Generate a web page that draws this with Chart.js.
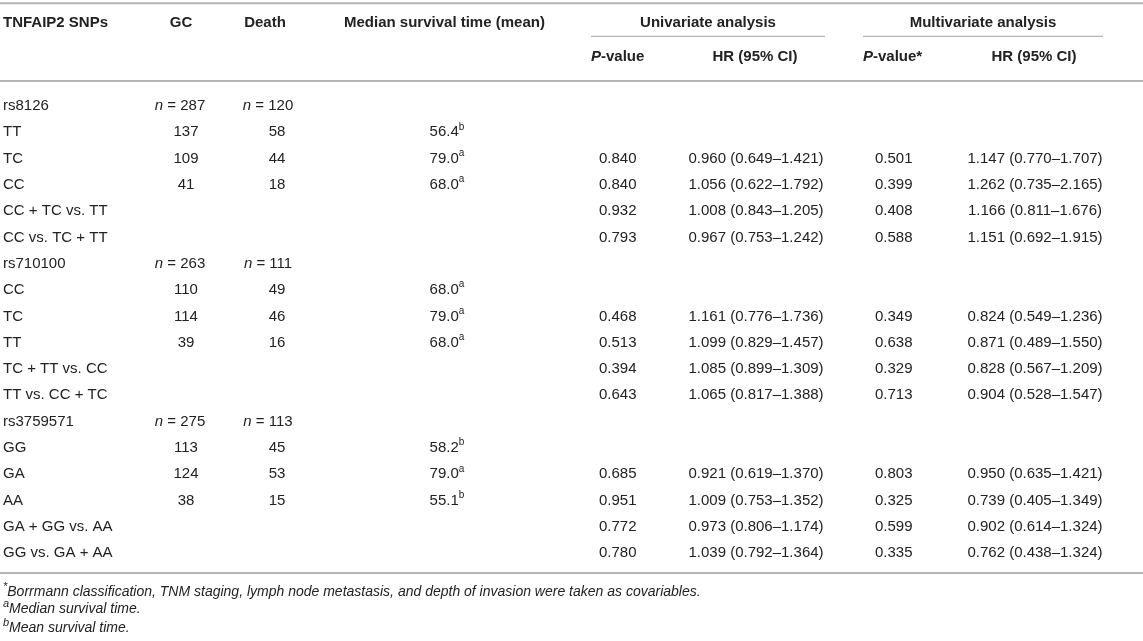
<!DOCTYPE html>
<html>
<head>
<meta charset="utf-8">
<script src="https://cdn.jsdelivr.net/npm/chart.js@4.4.1/dist/chart.umd.min.js"></script>
<style>
  html, body { margin: 0; padding: 0; background: #fff; }
  #table { display: block; }
</style>
</head>
<body>
<canvas id="table" width="1143" height="641"></canvas>
<script>
// table rows
const rowLabels = ['rs8126', 'TT', 'TC', 'CC', 'CC + TC vs. TT', 'CC vs. TC + TT',
  'rs710100', 'CC', 'TC', 'TT', 'TC + TT vs. CC', 'TT vs. CC + TC',
  'rs3759571', 'GG', 'GA', 'AA', 'GA + GG vs. AA', 'GG vs. GA + AA'];
const snpRows = [0, 6, 12];

const gcCounts = [287, 137, 109, 41, null, null, 263, 110, 114, 39, null, null, 275, 113, 124, 38, null, null];
const deathCounts = [120, 58, 44, 18, null, null, 111, 49, 46, 16, null, null, 113, 45, 53, 15, null, null];
const survivalTime = [null, 56.4, 79.0, 68.0, null, null, null, 68.0, 79.0, 68.0, null, null, null, 58.2, 79.0, 55.1, null, null];
const survivalNote = [null, 'b', 'a', 'a', null, null, null, 'a', 'a', 'a', null, null, null, 'b', 'a', 'b', null, null];

const uniP = [null, null, 0.840, 0.840, 0.932, 0.793, null, null, 0.468, 0.513, 0.394, 0.643, null, null, 0.685, 0.951, 0.772, 0.780];
const uniHR = [null, null, 0.960, 1.056, 1.008, 0.967, null, null, 1.161, 1.099, 1.085, 1.065, null, null, 0.921, 1.009, 0.973, 1.039];
const uniLow = [null, null, 0.649, 0.622, 0.843, 0.753, null, null, 0.776, 0.829, 0.899, 0.817, null, null, 0.619, 0.753, 0.806, 0.792];
const uniHigh = [null, null, 1.421, 1.792, 1.205, 1.242, null, null, 1.736, 1.457, 1.309, 1.388, null, null, 1.370, 1.352, 1.174, 1.364];

const multiP = [null, null, 0.501, 0.399, 0.408, 0.588, null, null, 0.349, 0.638, 0.329, 0.713, null, null, 0.803, 0.325, 0.599, 0.335];
const multiHR = [null, null, 1.147, 1.262, 1.166, 1.151, null, null, 0.824, 0.871, 0.828, 0.904, null, null, 0.950, 0.739, 0.902, 0.762];
const multiLow = [null, null, 0.770, 0.735, 0.811, 0.692, null, null, 0.549, 0.489, 0.567, 0.528, null, null, 0.635, 0.405, 0.614, 0.438];
const multiHigh = [null, null, 1.707, 2.165, 1.676, 1.915, null, null, 1.236, 1.550, 1.209, 1.547, null, null, 1.421, 1.349, 1.324, 1.324];

const footnotes = [
  ['*', 'Borrmann classification, TNM staging, lymph node metastasis, and depth of invasion were taken as covariables.'],
  ['a', 'Median survival time.'],
  ['b', 'Mean survival time.']
];

// layout (x in page pixels, y in row units)
const colX = { label: 3, gcN: 180, gc: 186, deathN: 268, death: 277, surv: 447,
  uniP: 599, uniHR: 756, multiP: 875, multiHR: 1035 };
const headY = -3.17, subLineY = -2.65, subHeadY = -1.87;
const topRuleY = -3.905, midRuleY = -0.95, bottomRuleY = 17.76;
const noteY = [18.48, 19.13, 19.85];
const ROW_PX = 26.3, FIRST_ROW_PX = 106;

const FONT = '"Liberation Sans", Arial, Helvetica, sans-serif';
const INK = '#222';
const RULE = '#b4b4b4';

function fontFor(p, size) {
  const s = p.sup ? Math.round(size * (p.supScale || 0.66)) : size;
  return (p.italic ? 'italic ' : '') + (p.bold ? 'bold ' : '') + s + 'px ' + FONT;
}

function drawRich(ctx, parts, x, y, align, size) {
  const widths = parts.map(p => { ctx.font = fontFor(p, size); return ctx.measureText(p.t).width; });
  const total = widths.reduce((a, b) => a + b, 0);
  let cx = align === 'left' ? x : align === 'center' ? x - total / 2 : x - total;
  parts.forEach((p, i) => {
    ctx.font = fontFor(p, size);
    ctx.fillText(p.t, cx, p.sup ? y - size * 0.36 : y);
    cx += widths[i];
  });
}

const f3 = v => v.toFixed(3);

const tablePlugin = {
  id: 'tableText',
  afterDraw(chart) {
    const ctx = chart.ctx;
    const xs = chart.scales.x, ys = chart.scales.y;
    const X = v => xs.getPixelForValue(v);
    const Y = v => ys.getPixelForValue(v);
    ctx.save();
    ctx.textBaseline = 'middle';
    ctx.fillStyle = INK;

    // rules
    ctx.strokeStyle = RULE;
    ctx.lineWidth = 2;
    [topRuleY, midRuleY, bottomRuleY].forEach(r => {
      ctx.beginPath(); ctx.moveTo(X(0), Y(r)); ctx.lineTo(X(1143), Y(r)); ctx.stroke();
    });
    ctx.lineWidth = 1.2;
    [[591, 825], [863, 1103]].forEach(([a, b]) => {
      ctx.beginPath(); ctx.moveTo(X(a), Y(subLineY)); ctx.lineTo(X(b), Y(subLineY)); ctx.stroke();
    });

    // header
    const hs = 15;
    drawRich(ctx, [{ t: 'TNFAIP2 SNPs', bold: true }], X(colX.label), Y(headY), 'left', hs);
    drawRich(ctx, [{ t: 'GC', bold: true }], X(181), Y(headY), 'center', hs);
    drawRich(ctx, [{ t: 'Death', bold: true }], X(265), Y(headY), 'center', hs);
    drawRich(ctx, [{ t: 'Median survival time (mean)', bold: true }], X(344), Y(headY), 'left', hs);
    drawRich(ctx, [{ t: 'Univariate analysis', bold: true }], X(708), Y(headY), 'center', hs);
    drawRich(ctx, [{ t: 'Multivariate analysis', bold: true }], X(983), Y(headY), 'center', hs);
    drawRich(ctx, [{ t: 'P', bold: true, italic: true }, { t: '-value', bold: true }], X(591), Y(subHeadY), 'left', hs);
    drawRich(ctx, [{ t: 'HR (95% CI)', bold: true }], X(755), Y(subHeadY), 'center', hs);
    drawRich(ctx, [{ t: 'P', bold: true, italic: true }, { t: '-value*', bold: true }], X(863), Y(subHeadY), 'left', hs);
    drawRich(ctx, [{ t: 'HR (95% CI)', bold: true }], X(1034), Y(subHeadY), 'center', hs);

    // body
    const bs = 15;
    rowLabels.forEach((lab, i) => {
      const y = Y(i);
      drawRich(ctx, [{ t: lab }], X(colX.label), y, 'left', bs);
      if (snpRows.includes(i)) {
        drawRich(ctx, [{ t: 'n', italic: true }, { t: ' = ' + gcCounts[i] }], X(colX.gcN), y, 'center', bs);
        drawRich(ctx, [{ t: 'n', italic: true }, { t: ' = ' + deathCounts[i] }], X(colX.deathN), y, 'center', bs);
      } else if (gcCounts[i] !== null) {
        drawRich(ctx, [{ t: String(gcCounts[i]) }], X(colX.gc), y, 'center', bs);
        drawRich(ctx, [{ t: String(deathCounts[i]) }], X(colX.death), y, 'center', bs);
      }
      if (survivalTime[i] !== null) {
        drawRich(ctx, [{ t: survivalTime[i].toFixed(1) }, { t: survivalNote[i], sup: true }], X(colX.surv), y, 'center', bs);
      }
      if (uniP[i] !== null) {
        drawRich(ctx, [{ t: f3(uniP[i]) }], X(colX.uniP), y, 'left', bs);
        drawRich(ctx, [{ t: f3(uniHR[i]) + ' (' + f3(uniLow[i]) + '\u2013' + f3(uniHigh[i]) + ')' }], X(colX.uniHR), y, 'center', bs);
        drawRich(ctx, [{ t: f3(multiP[i]) }], X(colX.multiP), y, 'left', bs);
        drawRich(ctx, [{ t: f3(multiHR[i]) + ' (' + f3(multiLow[i]) + '\u2013' + f3(multiHigh[i]) + ')' }], X(colX.multiHR), y, 'center', bs);
      }
    });

    // footnotes
    footnotes.forEach(([mark, text], k) => {
      drawRich(ctx, [{ t: mark, italic: true, sup: true, supScale: 0.75 }, { t: text, italic: true }], X(colX.label), Y(noteY[k]), 'left', 14);
    });
    ctx.restore();
  }
};

new Chart(document.getElementById('table').getContext('2d'), {
  type: 'scatter',
  data: { datasets: [{ data: [] }] },
  options: {
    responsive: false,
    animation: false,
    layout: { padding: 0 },
    plugins: { legend: { display: false }, tooltip: { enabled: false } },
    scales: {
      x: { type: 'linear', min: 0, max: 1143, display: false },
      y: { type: 'linear', min: -FIRST_ROW_PX / ROW_PX, max: (641 - FIRST_ROW_PX) / ROW_PX, reverse: true, display: false }
    }
  },
  plugins: [tablePlugin]
});
</script>
</body>
</html>
